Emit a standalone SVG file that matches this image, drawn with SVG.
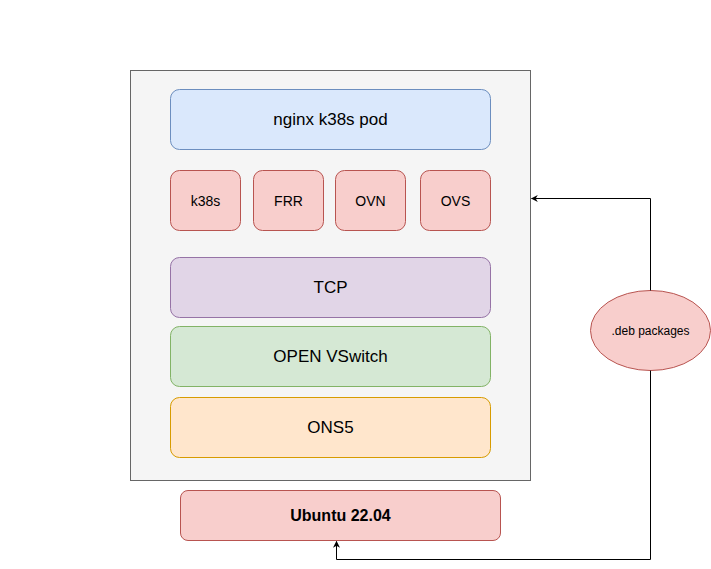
<svg xmlns="http://www.w3.org/2000/svg" width="711" height="569" viewBox="0 0 711 569">
<style>
text{font-family:"Liberation Sans",Arial,sans-serif;fill:#000;text-anchor:middle;dominant-baseline:central}
.red{fill:#f8cecc;stroke:#b85450}
.t16{font-size:17px}.t14{font-size:14px}.t12{font-size:12px}
.c{fill:none;stroke:#000;stroke-width:1}
</style>
<defs>
<marker id="ah" viewBox="0 0 10 10" refX="9" refY="5" markerWidth="7" markerHeight="7" orient="auto" markerUnits="userSpaceOnUse">
<path d="M0,0 L10,5 L0,10 L3,5 z" fill="#000"/>
</marker>
</defs>
<rect width="711" height="569" fill="#fff"/>
<g id="host"><rect x="130.5" y="70.5" width="400" height="410" fill="#f5f5f5" stroke="#666666"/></g>
<g id="nginx"><rect x="170.5" y="89.5" width="320" height="60" rx="9" fill="#dae8fc" stroke="#6c8ebf"/><text class="t16" x="330.5" y="119.5">nginx k38s pod</text></g>
<g id="k38s"><rect class="red" x="170.5" y="170.5" width="70" height="60" rx="9"/><text class="t14" x="205.5" y="200.5">k38s</text></g>
<g id="frr"><rect class="red" x="253.5" y="170.5" width="70" height="60" rx="9"/><text class="t14" x="288.5" y="200.5">FRR</text></g>
<g id="ovn"><rect class="red" x="335.5" y="170.5" width="70" height="60" rx="9"/><text class="t14" x="370.5" y="200.5">OVN</text></g>
<g id="ovs"><rect class="red" x="420.5" y="170.5" width="70" height="60" rx="9"/><text class="t14" x="455.5" y="200.5">OVS</text></g>
<g id="tcp"><rect x="170.5" y="257.5" width="320" height="60" rx="9" fill="#e1d5e7" stroke="#9673a6"/><text class="t16" x="330.5" y="287.5">TCP</text></g>
<g id="openvswitch"><rect x="170.5" y="326.5" width="320" height="60" rx="9" fill="#d5e8d4" stroke="#82b366"/><text class="t16" x="330.5" y="356.5">OPEN VSwitch</text></g>
<g id="ons5"><rect x="170.5" y="397.5" width="320" height="60" rx="9" fill="#ffe6cc" stroke="#d79b00"/><text class="t16" x="330.5" y="427.5">ONS5</text></g>
<g id="ubuntu"><rect class="red" x="180.5" y="490.5" width="320" height="50" rx="7.5"/><text x="340.5" y="515.5" font-size="16" font-weight="bold">Ubuntu 22.04</text></g>
<g id="deb"><ellipse class="red" cx="650.5" cy="330.5" rx="60" ry="40"/><text class="t12" x="650.5" y="330.5">.deb packages</text></g>
<g id="connectors">
<path class="c" d="M650.5,290.5 V198.5 H531.5" marker-end="url(#ah)"/>
<path class="c" d="M650.5,370.5 V559.5 H336.5 V541.5" marker-end="url(#ah)"/>
</g>
</svg>
